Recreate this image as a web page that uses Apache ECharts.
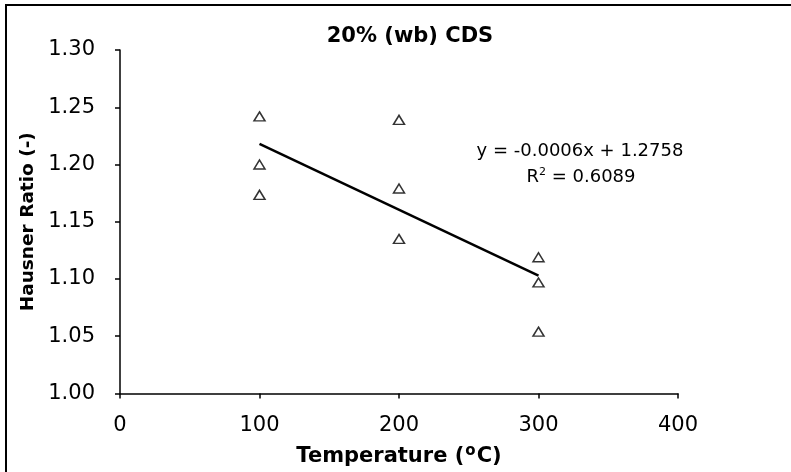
<!DOCTYPE html>
<html>
<head>
<meta charset="utf-8">
<script src="https://cdn.jsdelivr.net/npm/echarts@6/dist/echarts.min.js"></script>
<style>html,body{margin:0;padding:0;background:#fff;}#c{width:791px;height:472px;}</style>
</head>
<body>
<div id="c"></div>
<script>
var temperatures = [100, 100, 100, 200, 200, 200, 300, 300, 300];
var hausnerRatio = [1.242, 1.200, 1.1735, 1.239, 1.179, 1.135, 1.119, 1.097, 1.054];
var trendX = [100, 300];
var trendY = [1.218, 1.103];
var xTicks = [0, 100, 200, 300, 400];
var yTicks = [1.00, 1.05, 1.10, 1.15, 1.20, 1.25, 1.30];
var titleText = '20% (wb) CDS';
var equationText = 'y = -0.0006x + 1.2758';
var r2Text = '0.6089';

var chart = echarts.init(document.getElementById('c'));
var font = '"DejaVu Sans", Arial, sans-serif';
var points = temperatures.map(function (t, i) { return [t, hausnerRatio[i]]; });
var trend = trendX.map(function (t, i) { return [t, trendY[i]]; });

chart.setOption({
  animation: false,
  backgroundColor: '#fff',
  title: {
    text: titleText, left: 405, top: 21, textAlign: 'center',
    textStyle: { fontFamily: font, fontSize: 21, fontWeight: 'bold', color: '#000' }
  },
  grid: { left: 120, right: 113, top: 50, bottom: 78 },
  xAxis: {
    type: 'value', min: xTicks[0], max: xTicks[xTicks.length - 1], interval: 100,
    splitLine: { show: false },
    axisLine: { lineStyle: { color: '#000', width: 1.5 } },
    axisTick: { show: true, length: 5, lineStyle: { color: '#000', width: 1.5 } },
    axisLabel: { fontFamily: font, fontSize: 21, color: '#000', margin: 22 },
    name: '{b|Temperature (}{s|o}{b|C)}', nameLocation: 'middle', nameGap: 50,
    nameTextStyle: {
      rich: {
        b: { fontFamily: font, fontSize: 21, fontWeight: 'bold', color: '#000' },
        s: { fontFamily: font, fontSize: 15, fontWeight: 'bold', color: '#000', verticalAlign: 'top', padding: [0, 1, 11, 1] }
      }
    }
  },
  yAxis: {
    type: 'value', min: yTicks[0], max: yTicks[yTicks.length - 1], interval: 0.05,
    splitLine: { show: false },
    axisLine: { show: true, lineStyle: { color: '#000', width: 1.5 } },
    axisTick: { show: true, length: 5, lineStyle: { color: '#000', width: 1.5 } },
    axisLabel: { fontFamily: font, fontSize: 21, color: '#000', margin: 25,
      formatter: function (v) { return v.toFixed(2); } },
    name: 'Hausner Ratio (-)', nameLocation: 'middle', nameGap: 80, nameRotate: 90,
    nameTextStyle: { fontFamily: font, fontSize: 18.5, fontWeight: 'bold', color: '#000' }
  },
  series: [
    {
      type: 'scatter', data: points, symbol: 'triangle', symbolSize: [11, 9],
      itemStyle: { color: '#fff', borderColor: '#000', borderWidth: 1.5 }
    },
    {
      type: 'line', data: trend, symbol: 'none',
      lineStyle: { color: '#000', width: 2.5 }
    }
  ],
  graphic: [
    { type: 'line', shape: { x1: 5, y1: 5, x2: 791, y2: 5 }, style: { stroke: '#000', lineWidth: 2 } },
    { type: 'line', shape: { x1: 6, y1: 5, x2: 6, y2: 472 }, style: { stroke: '#000', lineWidth: 2 } },
    { type: 'text', x: 580, y: 151, style: { text: equationText, font: '18px ' + font, fill: '#000', textAlign: 'center', textVerticalAlign: 'middle' } },
    { type: 'text', x: 581, y: 177, style: {
        text: '{n|R}{s|2}{n| = ' + r2Text + '}',
        textAlign: 'center', textVerticalAlign: 'middle',
        rich: {
          n: { fontFamily: font, fontSize: 18, color: '#000' },
          s: { fontFamily: font, fontSize: 11, color: '#000', verticalAlign: 'top', padding: [0, 0, 9, 0] }
        }
      } }
  ]
});
</script>
</body>
</html>
